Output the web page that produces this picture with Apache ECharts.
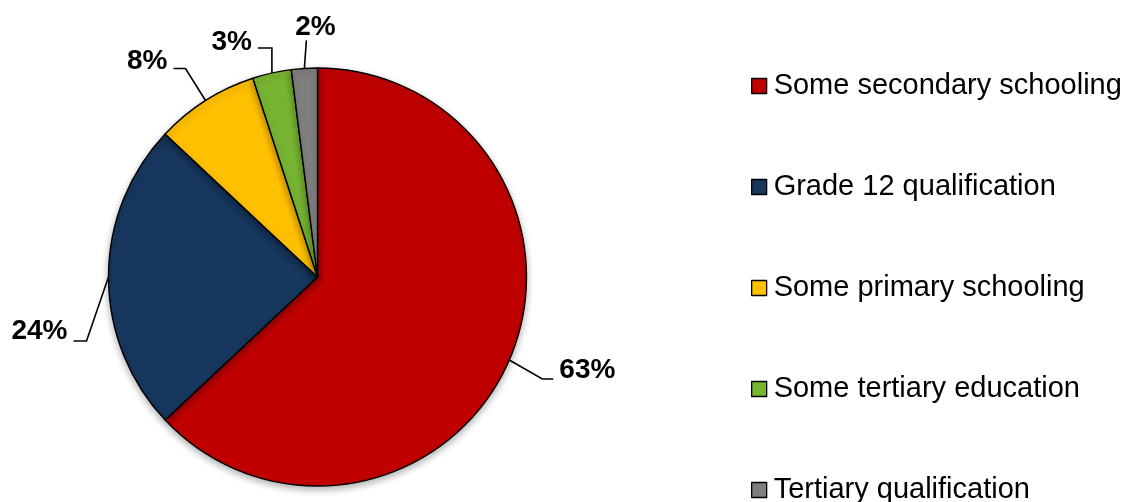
<!DOCTYPE html>
<html>
<head>
<meta charset="utf-8">
<script src="https://cdn.jsdelivr.net/npm/echarts@6/dist/echarts.min.js"></script>
<style>
  html, body { margin: 0; padding: 0; background: #fff; }
  #chart { width: 1125px; height: 502px; }
</style>
</head>
<body>
<div id="chart"></div>
<script>
// Highest level of education (share of respondents, %)
const categories = [
  'Some secondary schooling',
  'Grade 12 qualification',
  'Some primary schooling',
  'Some tertiary education',
  'Tertiary qualification'
];
const shares = [63, 24, 8, 3, 2];
const colors = ['#C00000', '#17375E', '#FFC000', '#77B432', '#7F7F7F'];

// Leader line shape per slice: bend offset from the slice edge, horizontal run,
// gap to the text, and vertical shift of the text against the line end.
const leaders = [
  { bend: [33, 19], run: 11, gap: 6, textDy: -9 },
  { bend: [-22, 64], run: -13, gap: 6, textDy: -10 },
  { bend: [-20, -32], run: -12, gap: 6, textDy: -7 },
  { bend: [0, -25], run: -14, gap: 6, textDy: -6 },
  { bend: [2, -28], run: 0, gap: 0, textDy: -13, center: 9 }
];

const chart = echarts.init(document.getElementById('chart'), null, { renderer: 'canvas' });

chart.setOption({
  animation: false,
  backgroundColor: '#ffffff',
  legend: {
    orient: 'vertical',
    left: 746,
    top: 66,
    height: 460,
    itemWidth: 15,
    itemHeight: 15,
    itemGap: 71,
    icon: 'rect',
    selectedMode: false,
    itemStyle: { borderColor: '#000000', borderWidth: 1.3 },
    textStyle: {
      fontFamily: 'Liberation Sans, Arial, sans-serif',
      fontSize: 29,
      color: '#000000',
      lineHeight: 30,
      padding: [0, 0, 0, 2]
    },
    data: categories
  },
  series: [{
    type: 'pie',
    center: [317.5, 277],
    radius: 209,
    startAngle: 90,
    clockwise: true,
    avoidLabelOverlap: false,
    data: categories.map((name, i) => ({
      name: name,
      value: shares[i],
      itemStyle: { color: colors[i] }
    })),
    itemStyle: {
      borderColor: '#000000',
      borderWidth: 1.4,
      shadowBlur: 7,
      shadowOffsetY: 3,
      shadowColor: 'rgba(0,0,0,0.30)'
    },
    emphasis: { disabled: true },
    label: {
      show: true,
      position: 'outside',
      formatter: p => p.value + '%',
      fontFamily: 'Liberation Sans, Arial, sans-serif',
      fontWeight: 'bold',
      fontSize: 28,
      color: '#000000'
    },
    labelLine: {
      show: true,
      length: 30,
      length2: 12,
      lineStyle: { color: '#000000', width: 1.6 }
    },
    labelLayout: function (params) {
      const L = leaders[params.dataIndex];
      const start = params.labelLinePoints[0];
      const bend = [start[0] + L.bend[0], start[1] + L.bend[1]];
      const end = [bend[0] + L.run, bend[1]];
      if (L.center !== undefined) {
        return {
          x: end[0] + L.center,
          y: end[1] + L.textDy,
          align: 'center',
          verticalAlign: 'middle',
          labelLinePoints: [start, bend, end]
        };
      }
      const right = L.run >= 0;
      return {
        x: end[0] + (right ? L.gap : -L.gap),
        y: end[1] + L.textDy,
        align: right ? 'left' : 'right',
        verticalAlign: 'middle',
        labelLinePoints: [start, bend, end]
      };
    }
  }]
});
</script>
</body>
</html>
